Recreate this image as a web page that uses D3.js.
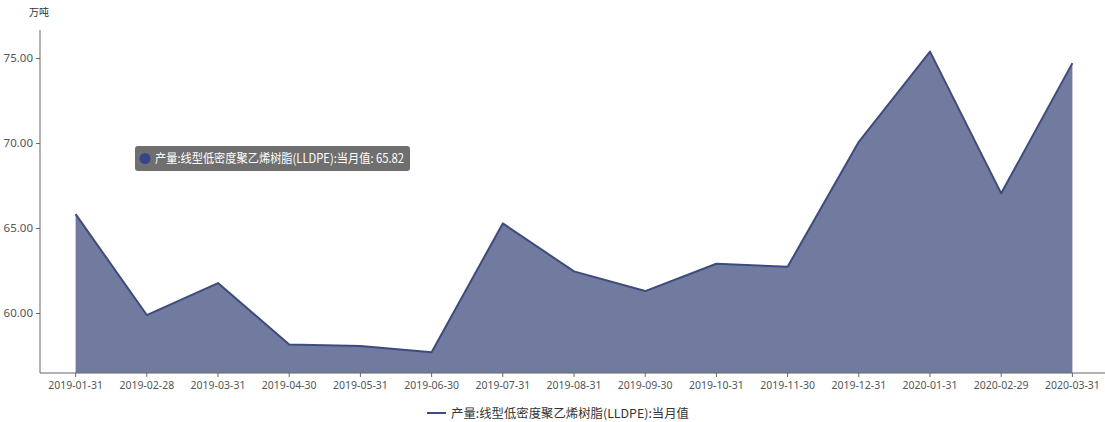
<!DOCTYPE html>
<html>
<head>
<meta charset="utf-8">
<script src="https://cdn.jsdelivr.net/npm/d3@7/dist/d3.min.js"></script>
<style>
  body { margin: 0; background: #fff; }
  svg { display: block; font-family: "Microsoft YaHei", "Noto Sans CJK SC", sans-serif; }
</style>
</head>
<body>
<script>
// categories and values
var dates = ["2019-01-31", "2019-02-28", "2019-03-31", "2019-04-30", "2019-05-31",
  "2019-06-30", "2019-07-31", "2019-08-31", "2019-09-30", "2019-10-31",
  "2019-11-30", "2019-12-31", "2020-01-31", "2020-02-29", "2020-03-31"];
var output = [65.82, 59.88, 61.76, 58.14, 58.06, 57.69, 65.27, 62.45, 61.29, 62.9,
  62.72, 70.07, 75.38, 67.04, 74.7];
var yTicks = [60, 65, 70, 75];
var seriesName = "产量:线型低密度聚乙烯树脂(LLDPE):当月值";
var unit = "万吨";

var width = 1105, height = 422;
var plotLeft = 40, plotRight = 1108, plotTop = 30, plotBottom = 373;

var svg = d3.select("body").append("svg")
  .attr("width", width)
  .attr("height", height);

var x = d3.scaleBand().domain(dates).range([plotLeft, plotRight]);
var y = d3.scaleLinear().domain([56.47, 76.65]).range([plotBottom, plotTop]);

function cx(d) { return x(d) + x.bandwidth() / 2; }

// area + line
var area = d3.area()
  .x(function(d, i) { return cx(dates[i]); })
  .y0(plotBottom)
  .y1(function(d) { return y(d); });
var line = d3.line()
  .x(function(d, i) { return cx(dates[i]); })
  .y(function(d) { return y(d); });

svg.append("path").datum(output)
  .attr("d", area)
  .attr("fill", "#717a9f");
svg.append("path").datum(output)
  .attr("d", line)
  .attr("fill", "none")
  .attr("stroke", "#3e4b7d")
  .attr("stroke-width", 2)
  .attr("stroke-linejoin", "round");

// y axis
var yAxis = d3.axisLeft(y).tickValues(yTicks).tickSize(4).tickPadding(3)
  .tickFormat(function(d) { return d.toFixed(2); });
var gy = svg.append("g").attr("transform", "translate(" + plotLeft + ",0)").call(yAxis);
gy.select(".domain").attr("d", "M0," + plotTop + "V" + plotBottom).attr("stroke", "#666");
gy.selectAll(".tick line").attr("stroke", "#666");
gy.selectAll(".tick text").attr("fill", "#555").attr("font-size", 11.5)
  .attr("font-family", "Noto Sans, sans-serif");

// x axis
var xAxis = d3.axisBottom(x).tickSize(4).tickPadding(5);
var gx = svg.append("g").attr("transform", "translate(0," + plotBottom + ")").call(xAxis);
gx.select(".domain").attr("d", "M" + plotLeft + ",0H" + plotRight).attr("stroke", "#666");
gx.selectAll(".tick line").attr("stroke", "#666");
gx.selectAll(".tick text").attr("fill", "#555").attr("font-size", 10.5)
  .attr("font-family", "Noto Sans, sans-serif");

// unit label
svg.append("text")
  .attr("x", 39).attr("y", 16)
  .attr("text-anchor", "middle")
  .attr("font-size", 10)
  .attr("fill", "#333")
  .text(unit);

// legend
var lg = svg.append("g").attr("transform", "translate(427,413)");
lg.append("line").attr("x1", 0).attr("x2", 19).attr("y1", 0).attr("y2", 0)
  .attr("stroke", "#3e4b7d").attr("stroke-width", 2);
lg.append("text").attr("x", 24).attr("y", 4.5)
  .attr("font-size", 12).attr("fill", "#333")
  .attr("textLength", 238).attr("lengthAdjust", "spacingAndGlyphs")
  .text(seriesName);

// tooltip shown on the first point
var tip = svg.append("g").attr("transform", "translate(135,146)");
tip.append("rect").attr("width", 275).attr("height", 25).attr("rx", 3)
  .attr("fill", "rgba(50,50,50,0.7)");
tip.append("circle").attr("cx", 10).attr("cy", 12.5).attr("r", 5.5).attr("fill", "#36458a");
tip.append("text").attr("x", 20).attr("y", 17)
  .attr("font-size", 12.5).attr("fill", "#fff")
  .attr("textLength", 249).attr("lengthAdjust", "spacingAndGlyphs")
  .text(seriesName + ": " + output[0]);
</script>
</body>
</html>
